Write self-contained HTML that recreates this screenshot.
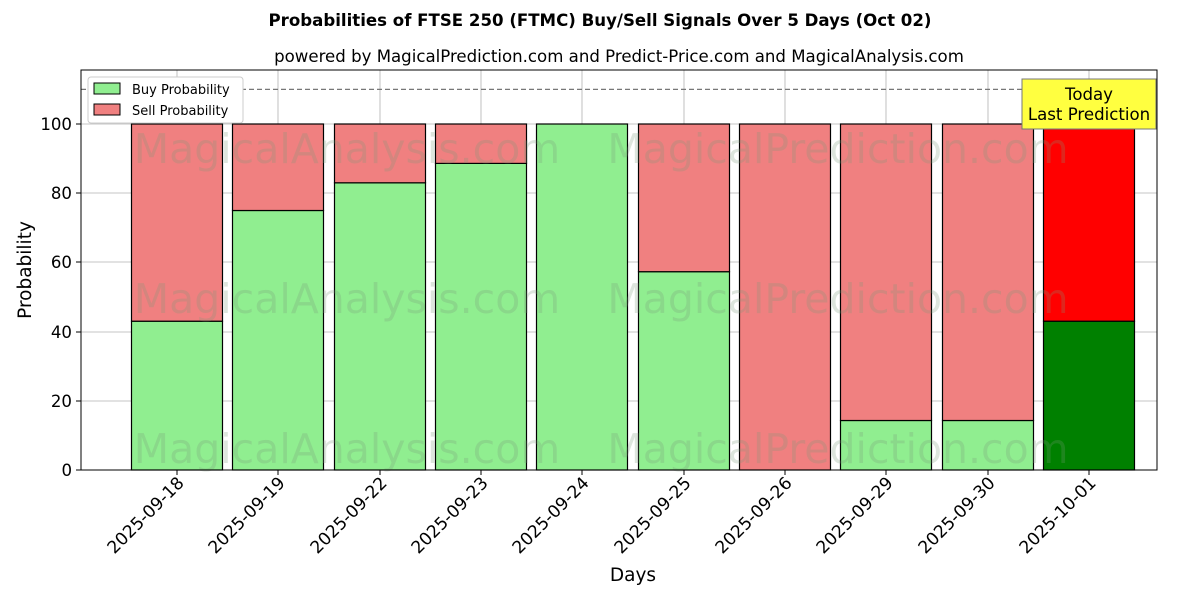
<!DOCTYPE html>
<html><head><meta charset="utf-8"><style>
body{margin:0;background:#fff;}
svg text{font-family:"DejaVu Sans","Liberation Sans",sans-serif;}
</style></head><body>
<svg width="1200" height="600" xmlns="http://www.w3.org/2000/svg">
<rect width="1200" height="600" fill="#fff"/>
<text x="600" y="26" text-anchor="middle" font-size="16.6" font-weight="bold">Probabilities of FTSE 250 (FTMC) Buy/Sell Signals Over 5 Days (Oct 02)</text>
<text x="619" y="62" text-anchor="middle" font-size="16.6">powered by MagicalPrediction.com and Predict-Price.com and MagicalAnalysis.com</text>
<g stroke="#b0b0b0" stroke-width="0.8">
<line x1="177" y1="70" x2="177" y2="470"/><line x1="278" y1="70" x2="278" y2="470"/><line x1="380" y1="70" x2="380" y2="470"/><line x1="481" y1="70" x2="481" y2="470"/><line x1="582" y1="70" x2="582" y2="470"/><line x1="684" y1="70" x2="684" y2="470"/><line x1="785" y1="70" x2="785" y2="470"/><line x1="886" y1="70" x2="886" y2="470"/><line x1="988" y1="70" x2="988" y2="470"/><line x1="1089" y1="70" x2="1089" y2="470"/>
<line x1="81" y1="401" x2="1157" y2="401"/><line x1="81" y1="332" x2="1157" y2="332"/><line x1="81" y1="262" x2="1157" y2="262"/><line x1="81" y1="193" x2="1157" y2="193"/><line x1="81" y1="124" x2="1157" y2="124"/>
</g>
<g stroke="#000" stroke-width="1.2">
<rect x="131.5" y="321.2" width="91" height="148.8" fill="#90ee90"/><rect x="131.5" y="124" width="91" height="197.2" fill="#f08080"/>
<rect x="232.5" y="210.5" width="91" height="259.5" fill="#90ee90"/><rect x="232.5" y="124" width="91" height="86.5" fill="#f08080"/>
<rect x="334.5" y="182.8" width="91" height="287.2" fill="#90ee90"/><rect x="334.5" y="124" width="91" height="58.8" fill="#f08080"/>
<rect x="435.5" y="163.4" width="91" height="306.6" fill="#90ee90"/><rect x="435.5" y="124" width="91" height="39.4" fill="#f08080"/>
<rect x="536.5" y="124" width="91" height="346" fill="#90ee90"/>
<rect x="638.5" y="271.7" width="91" height="198.3" fill="#90ee90"/><rect x="638.5" y="124" width="91" height="147.7" fill="#f08080"/>
<rect x="739.5" y="124" width="91" height="346" fill="#f08080"/>
<rect x="840.5" y="420.5" width="91" height="49.5" fill="#90ee90"/><rect x="840.5" y="124" width="91" height="296.5" fill="#f08080"/>
<rect x="942.5" y="420.5" width="91" height="49.5" fill="#90ee90"/><rect x="942.5" y="124" width="91" height="296.5" fill="#f08080"/>
<rect x="1043.5" y="321.2" width="91" height="148.8" fill="#008000"/><rect x="1043.5" y="124" width="91" height="197.2" fill="#ff0000"/>
</g>
<g font-size="41" fill="#7a9a7a" opacity="0.25" text-anchor="middle">
<text x="347" y="163">MagicalAnalysis.com</text><text x="838" y="163">MagicalPrediction.com</text>
<text x="347" y="313">MagicalAnalysis.com</text><text x="838" y="313">MagicalPrediction.com</text>
<text x="347" y="463">MagicalAnalysis.com</text><text x="838" y="463">MagicalPrediction.com</text>
</g>
<line x1="81" y1="89.4" x2="1157" y2="89.4" stroke="#777" stroke-width="1.2" stroke-dasharray="5,3"/>
<rect x="1022" y="79" width="134" height="50" fill="#ffff40" stroke="#777"/>
<text x="1089" y="100" text-anchor="middle" font-size="16.6">Today</text>
<text x="1089" y="120" text-anchor="middle" font-size="16.6">Last Prediction</text>
<rect x="81" y="70" width="1076" height="400" fill="none" stroke="#000" stroke-width="1"/>
<rect x="88" y="77" width="155" height="46" fill="#fff" stroke="#ccc" rx="3"/>
<rect x="94" y="83" width="26" height="11" fill="#90ee90" stroke="#000"/><text x="132" y="94" font-size="13">Buy Probability</text>
<rect x="94" y="104" width="26" height="11" fill="#f08080" stroke="#000"/><text x="132" y="115" font-size="13">Sell Probability</text>
<g font-size="16.6" text-anchor="end">
<text x="72" y="476">0</text><text x="72" y="407">20</text><text x="72" y="338">40</text><text x="72" y="268">60</text><text x="72" y="199">80</text><text x="72" y="130">100</text>
</g>
<g stroke="#000"><line x1="76" y1="470" x2="81" y2="470"/><line x1="76" y1="401" x2="81" y2="401"/><line x1="76" y1="332" x2="81" y2="332"/><line x1="76" y1="262" x2="81" y2="262"/><line x1="76" y1="193" x2="81" y2="193"/><line x1="76" y1="124" x2="81" y2="124"/>
<line x1="177" y1="470" x2="177" y2="475"/><line x1="278" y1="470" x2="278" y2="475"/><line x1="380" y1="470" x2="380" y2="475"/><line x1="481" y1="470" x2="481" y2="475"/><line x1="582" y1="470" x2="582" y2="475"/><line x1="684" y1="470" x2="684" y2="475"/><line x1="785" y1="470" x2="785" y2="475"/><line x1="886" y1="470" x2="886" y2="475"/><line x1="988" y1="470" x2="988" y2="475"/><line x1="1089" y1="470" x2="1089" y2="475"/></g>
<g font-size="17.2" text-anchor="end">
<text transform="translate(185,484) rotate(-45)">2025-09-18</text>
<text transform="translate(286,484) rotate(-45)">2025-09-19</text>
<text transform="translate(388,484) rotate(-45)">2025-09-22</text>
<text transform="translate(489,484) rotate(-45)">2025-09-23</text>
<text transform="translate(590,484) rotate(-45)">2025-09-24</text>
<text transform="translate(692,484) rotate(-45)">2025-09-25</text>
<text transform="translate(793,484) rotate(-45)">2025-09-26</text>
<text transform="translate(894,484) rotate(-45)">2025-09-29</text>
<text transform="translate(996,484) rotate(-45)">2025-09-30</text>
<text transform="translate(1097,484) rotate(-45)">2025-10-01</text>
</g>
<text x="633" y="581" text-anchor="middle" font-size="18.5">Days</text>
<text transform="translate(31,270) rotate(-90)" text-anchor="middle" font-size="18.5">Probability</text>
</svg>
</body></html>
